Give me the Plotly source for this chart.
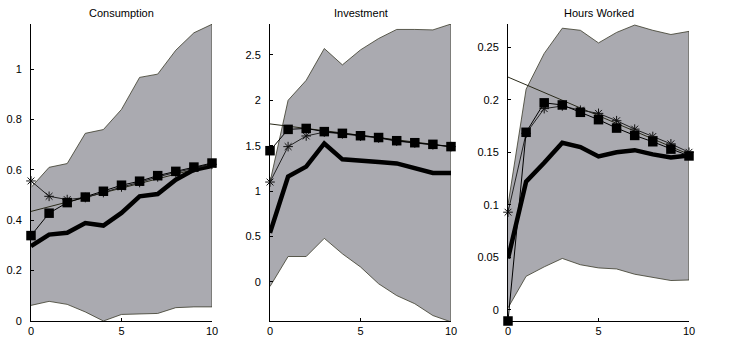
import plotly.graph_objects as go

steps = list(range(11))
trend_x = [0, 10]

titles = ["Consumption", "Investment", "Hours Worked"]

upper_c = [0.53, 0.61, 0.625, 0.745, 0.76, 0.84, 0.967, 0.98, 1.075, 1.144, 1.178]
lower_c = [0.062, 0.078, 0.066, 0.036, 0.0, 0.026, 0.028, 0.03, 0.053, 0.056, 0.056]
thick_c = [0.297, 0.343, 0.35, 0.389, 0.379, 0.429, 0.495, 0.504, 0.561, 0.60, 0.616]
square_c = [0.339, 0.428, 0.47, 0.492, 0.515, 0.539, 0.555, 0.577, 0.594, 0.611, 0.627]
star_c = [0.556, 0.495, 0.482, 0.49, 0.51, 0.532, 0.55, 0.572, 0.59, 0.607, 0.622]
trend_c = [0.435, 0.62]

upper_i = [1.1, 2.0, 2.22, 2.57, 2.39, 2.555, 2.68, 2.78, 2.78, 2.775, 2.84]
lower_i = [-0.05, 0.28, 0.28, 0.48, 0.31, 0.165, -0.02, -0.15, -0.24, -0.37, -0.44]
thick_i = [0.54, 1.16, 1.27, 1.525, 1.35, 1.34, 1.32, 1.305, 1.25, 1.20, 1.20]
square_i = [1.445, 1.68, 1.69, 1.655, 1.636, 1.61, 1.59, 1.555, 1.533, 1.515, 1.49]
star_i = [1.10, 1.49, 1.607, 1.65, 1.63, 1.605, 1.585, 1.55, 1.53, 1.51, 1.49]
trend_i = [1.74, 1.49]

upper_h = [0.1, 0.21, 0.244, 0.268, 0.266, 0.254, 0.264, 0.271, 0.266, 0.262, 0.265]
lower_h = [0.002, 0.032, 0.041, 0.049, 0.043, 0.04, 0.039, 0.034, 0.031, 0.028, 0.0285]
thick_h = [0.049, 0.122, 0.14, 0.159, 0.155, 0.146, 0.15, 0.152, 0.148, 0.145, 0.147]
square_h = [-0.0105, 0.169, 0.197, 0.195, 0.188, 0.181, 0.173, 0.166, 0.16, 0.153, 0.1465]
star_h = [0.093, 0.168, 0.1915, 0.194, 0.19, 0.187, 0.18, 0.172, 0.165, 0.158, 0.150]
trend_h = [0.2215, 0.148]

y_ticks = [
    [0, 0.2, 0.4, 0.6, 0.8, 1],
    [0, 0.5, 1, 1.5, 2, 2.5],
    [0, 0.05, 0.1, 0.15, 0.2, 0.25],
]
y_ticktext = [
    ["0", "0.2", "0.4", "0.6", "0.8", "1"],
    ["0", "0.5", "1", "1.5", "2", "2.5"],
    ["0", "0.05", "0.1", "0.15", "0.2", "0.25"],
]
x_ticks = [0, 5, 10]
y_ranges = [[0, 1.179], [-0.43, 2.84], [-0.0105, 0.272]]

panels = [
    (upper_c, lower_c, thick_c, square_c, star_c, trend_c),
    (upper_i, lower_i, thick_i, square_i, star_i, trend_i),
    (upper_h, lower_h, thick_h, square_h, star_h, trend_h),
]

W, H = 737, 345
x_px = [(31, 212), (270, 451), (508, 689)]
top_px, bot_px = 24, 321

band_fill = "#aaaab0"
edge = "#3a3a2a"
FONT = "Liberation Sans, Arial, sans-serif"

fig = go.Figure()
for k, (up, lo, thick, sq, st, tr) in enumerate(panels):
    xa = "x" if k == 0 else f"x{k+1}"
    ya = "y" if k == 0 else f"y{k+1}"
    fig.add_trace(go.Scatter(
        x=steps + steps[::-1], y=up + lo[::-1], fill="toself",
        fillcolor=band_fill, mode="lines",
        line=dict(color=edge, width=0.8), xaxis=xa, yaxis=ya,
        hoverinfo="skip", showlegend=False))
    fig.add_trace(go.Scatter(
        x=trend_x, y=tr, mode="lines", line=dict(color="#2a2a1a", width=1),
        xaxis=xa, yaxis=ya, showlegend=False))
    fig.add_trace(go.Scatter(
        x=steps, y=thick, mode="lines", line=dict(color="black", width=4.5),
        xaxis=xa, yaxis=ya, showlegend=False))
    fig.add_trace(go.Scatter(
        x=steps, y=st, mode="lines+markers", line=dict(color="#222", width=1),
        marker=dict(symbol="asterisk-open", size=8, color="#111",
                    line=dict(color="#111", width=1)),
        cliponaxis=False, xaxis=xa, yaxis=ya, showlegend=False))
    fig.add_trace(go.Scatter(
        x=steps, y=sq, mode="lines+markers", line=dict(color="black", width=1),
        marker=dict(symbol="square", size=9.5, color="black"),
        cliponaxis=False, xaxis=xa, yaxis=ya, showlegend=False))

layout = dict(
    width=W, height=H, margin=dict(l=0, r=0, t=0, b=0),
    paper_bgcolor="white", plot_bgcolor="white",
    font=dict(family=FONT, size=11, color="black"),
    showlegend=False,
)
annotations = []
for k in range(3):
    xd = [x_px[k][0] / W, x_px[k][1] / W]
    yd = [(H - bot_px) / H, (H - top_px) / H]
    xn = "xaxis" if k == 0 else f"xaxis{k+1}"
    yn = "yaxis" if k == 0 else f"yaxis{k+1}"
    xa = "x" if k == 0 else f"x{k+1}"
    ya = "y" if k == 0 else f"y{k+1}"
    layout[xn] = dict(domain=xd, anchor=ya, range=[0, 10], tickvals=x_ticks,
                      ticktext=[str(v) for v in x_ticks],
                      showgrid=False, zeroline=False, showline=True,
                      linecolor="black", linewidth=1, ticks="inside",
                      ticklen=3, tickcolor="black", automargin=False,
                      tickfont=dict(size=11))
    layout[yn] = dict(domain=yd, anchor=xa, range=y_ranges[k],
                      tickvals=y_ticks[k], ticktext=y_ticktext[k],
                      showgrid=False, zeroline=False, showline=True,
                      linecolor="black", linewidth=1, ticks="inside",
                      ticklen=3, tickcolor="black", automargin=False,
                      ticklabelstandoff=6, tickfont=dict(size=11))
    annotations.append(dict(
        text=titles[k], x=(x_px[k][0] + x_px[k][1]) / 2 / W,
        y=(H - 13) / H, xref="paper", yref="paper",
        showarrow=False, font=dict(size=11, family=FONT),
        xanchor="center", yanchor="middle"))
layout["annotations"] = annotations
fig.update_layout(**layout)

fig.write_html("out.html")
